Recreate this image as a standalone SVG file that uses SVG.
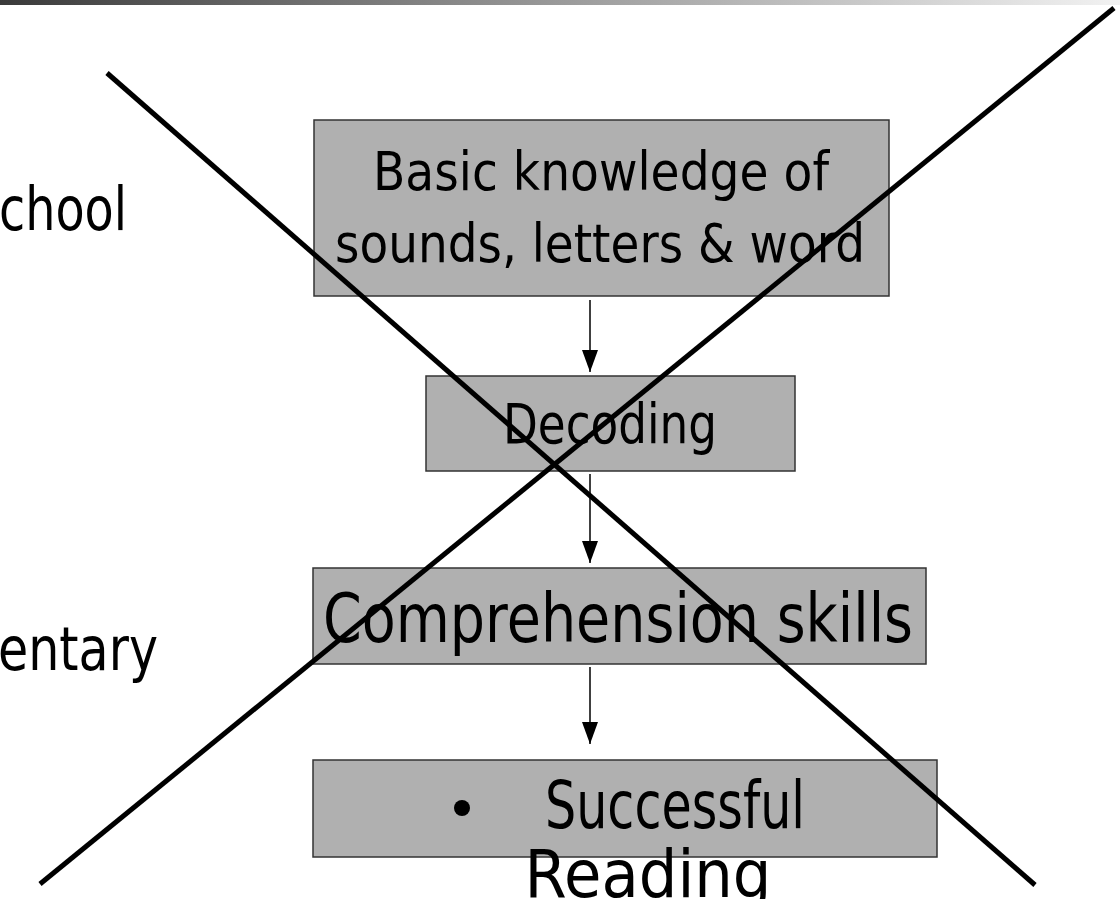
<svg xmlns="http://www.w3.org/2000/svg" width="1120" height="899" viewBox="0 0 1120 899">
<defs>
<linearGradient id="bar" x1="0" y1="0" x2="1" y2="0">
<stop offset="0" stop-color="#3a3a3a"/>
<stop offset="0.5" stop-color="#9a9a9a"/>
<stop offset="1" stop-color="#f2f2f2"/>
</linearGradient>
<marker id="ah" viewBox="0 0 22 16" refX="22" refY="8" markerWidth="22" markerHeight="16" markerUnits="userSpaceOnUse" orient="auto">
<path d="M0,0 L22,8 L0,16 Z" fill="#000"/>
</marker>
<style>
.box{fill:#b0b0b0;stroke:#333;stroke-width:1.5}
.t{font-family:"DejaVu Sans",Verdana,sans-serif;fill:#000;text-anchor:middle}
.side{font-family:"DejaVu Sans",Verdana,sans-serif;fill:#000;font-size:60px}
.arr{stroke:#000;stroke-width:1.5;fill:none}
.x{stroke:#000;stroke-width:5;stroke-linecap:butt}
</style>
</defs>
<rect x="0" y="0" width="1120" height="5" fill="url(#bar)"/>
<text class="side" x="127" y="230" text-anchor="end" textLength="128" lengthAdjust="spacingAndGlyphs">chool</text>
<text class="side" x="158" y="670" text-anchor="end" textLength="160" lengthAdjust="spacingAndGlyphs">entary</text>
<g id="n1">
<rect class="box" x="314" y="120" width="575" height="176"/>
<text class="t" x="601" y="190" font-size="54" textLength="456" lengthAdjust="spacingAndGlyphs">Basic knowledge of</text>
<text class="t" x="600" y="262" font-size="54" textLength="530" lengthAdjust="spacingAndGlyphs">sounds, letters &amp; word</text>
</g>
<g id="n2">
<rect class="box" x="426" y="376" width="369" height="95"/>
<text class="t" x="610" y="443" font-size="56" textLength="214" lengthAdjust="spacingAndGlyphs">Decoding</text>
</g>
<g id="n3">
<rect class="box" x="313" y="568" width="613" height="96"/>
<text class="t" x="618" y="642" font-size="68" textLength="590" lengthAdjust="spacingAndGlyphs">Comprehension skills</text>
</g>
<g id="n4">
<rect class="box" x="313" y="760" width="624" height="97"/>
<circle cx="462" cy="808" r="8" fill="#000"/>
<text class="t" x="675" y="828" font-size="66" textLength="260" lengthAdjust="spacingAndGlyphs">Successful</text>
<text class="t" x="648" y="897" font-size="66" textLength="247" lengthAdjust="spacingAndGlyphs">Reading</text>
</g>
<g id="connectors">
<line class="arr" x1="590" y1="300" x2="590" y2="372" marker-end="url(#ah)"/>
<line class="arr" x1="590" y1="474" x2="590" y2="563" marker-end="url(#ah)"/>
<line class="arr" x1="590" y1="667" x2="590" y2="744" marker-end="url(#ah)"/>
</g>
<g id="cross">
<line class="x" x1="107" y1="73" x2="1035" y2="885"/>
<line class="x" x1="1114" y1="8" x2="40" y2="884"/>
</g>
</svg>
